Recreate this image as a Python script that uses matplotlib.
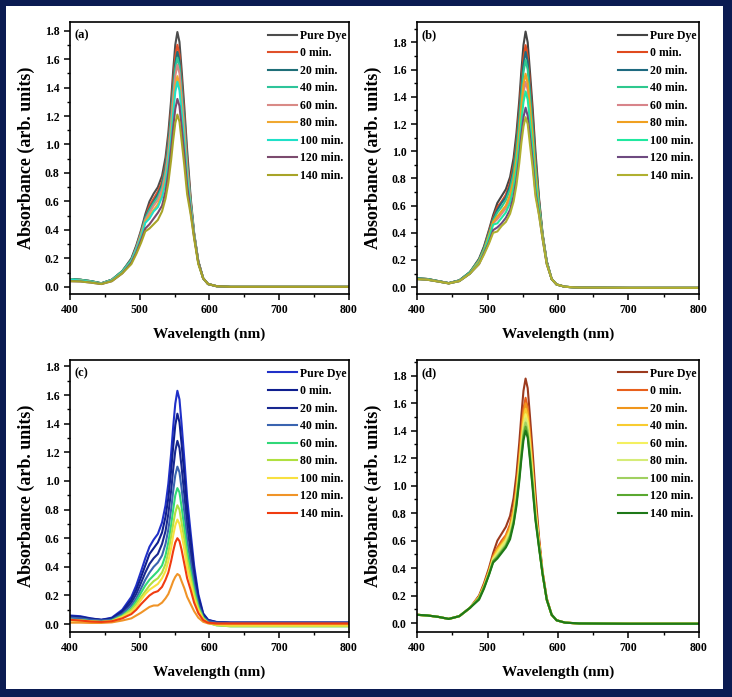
import matplotlib
matplotlib.use('Agg')
import matplotlib.pyplot as plt
from matplotlib.patches import Rectangle
from matplotlib.ticker import MultipleLocator, FormatStrFormatter

plt.rcParams['font.family'] = ['Liberation Serif', 'DejaVu Serif']
plt.rcParams['font.weight'] = 'bold'

# ---------------------------------------------------------------------------
# data
# ---------------------------------------------------------------------------
LABELS = ['Pure Dye', '0 min.', '20 min.', '40 min.', '60 min.',
          '80 min.', '100 min.', '120 min.', '140 min.']

# wavelength grid: left tail, absorption band, right tail
WL_LEFT = [400, 415, 430, 445, 460, 475]
WL_BAND = [488, 495, 502, 508, 514, 520, 526, 532, 537, 541, 545,
           548, 551, 554, 557, 560, 564, 568, 573, 578, 584, 591]
WL_RIGHT = [598, 610, 630, 700, 800]

# ---- panel (a)
A_LEFT = [[0.055, 0.05, 0.04, 0.025, 0.05, 0.11]] * 4 + \
         [[0.05, 0.045, 0.035, 0.022, 0.045, 0.10]] * 3 + \
         [[0.04, 0.038, 0.03, 0.02, 0.04, 0.095]] * 2
A_RIGHT = [[0.02, 0.005, 0.0, 0.0, 0.0]] * 9
A_BAND = [
    [0.20, 0.29, 0.40, 0.51, 0.60, 0.655, 0.70, 0.78, 0.91, 1.08, 1.31, 1.52, 1.70, 1.79, 1.72, 1.53, 1.26, 0.96, 0.63, 0.38, 0.18, 0.06],
    [0.19, 0.28, 0.39, 0.49, 0.57, 0.62, 0.67, 0.74, 0.86, 1.03, 1.24, 1.44, 1.62, 1.70, 1.63, 1.45, 1.20, 0.91, 0.61, 0.37, 0.18, 0.06],
    [0.19, 0.28, 0.38, 0.49, 0.55, 0.60, 0.65, 0.72, 0.84, 1.00, 1.21, 1.40, 1.57, 1.65, 1.59, 1.41, 1.16, 0.89, 0.60, 0.37, 0.18, 0.06],
    [0.19, 0.27, 0.38, 0.48, 0.54, 0.59, 0.63, 0.70, 0.82, 0.97, 1.18, 1.37, 1.53, 1.61, 1.55, 1.38, 1.13, 0.86, 0.59, 0.37, 0.17, 0.06],
    [0.18, 0.27, 0.37, 0.47, 0.52, 0.57, 0.61, 0.68, 0.79, 0.94, 1.14, 1.33, 1.48, 1.56, 1.50, 1.33, 1.10, 0.84, 0.58, 0.37, 0.17, 0.06],
    [0.18, 0.26, 0.36, 0.46, 0.50, 0.54, 0.58, 0.65, 0.75, 0.89, 1.08, 1.26, 1.41, 1.48, 1.42, 1.27, 1.04, 0.79, 0.56, 0.36, 0.17, 0.06],
    [0.18, 0.26, 0.35, 0.45, 0.48, 0.53, 0.56, 0.63, 0.73, 0.87, 1.05, 1.22, 1.37, 1.44, 1.38, 1.23, 1.01, 0.77, 0.56, 0.36, 0.17, 0.06],
    [0.17, 0.24, 0.33, 0.41, 0.44, 0.48, 0.52, 0.57, 0.67, 0.80, 0.97, 1.12, 1.25, 1.32, 1.27, 1.13, 0.93, 0.71, 0.53, 0.35, 0.17, 0.06],
    [0.16, 0.23, 0.31, 0.39, 0.41, 0.44, 0.47, 0.53, 0.62, 0.73, 0.89, 1.03, 1.15, 1.21, 1.16, 1.03, 0.85, 0.65, 0.51, 0.34, 0.16, 0.06],
]
A_COLORS = ['#4d4d4d', '#e0502a', '#1f6f78', '#2ec49a', '#d98a86',
            '#f0a830', '#1fe0c8', '#7b4b6e', '#a8a428']

# ---- panel (b)
B_LEFT = [[0.065, 0.06, 0.045, 0.03, 0.05, 0.11]] * 4 + \
         [[0.06, 0.055, 0.042, 0.028, 0.045, 0.10]] * 5
B_RIGHT = [[0.02, 0.003, -0.003, -0.005, -0.005]] * 9
B_BAND = [
    [0.21, 0.30, 0.42, 0.53, 0.62, 0.67, 0.72, 0.81, 0.95, 1.13, 1.37, 1.59, 1.78, 1.88, 1.80, 1.60, 1.32, 1.00, 0.66, 0.40, 0.19, 0.06],
    [0.20, 0.29, 0.41, 0.51, 0.59, 0.63, 0.68, 0.77, 0.90, 1.07, 1.30, 1.51, 1.69, 1.78, 1.70, 1.52, 1.25, 0.95, 0.64, 0.39, 0.19, 0.06],
    [0.20, 0.29, 0.40, 0.50, 0.57, 0.62, 0.66, 0.75, 0.87, 1.04, 1.26, 1.46, 1.64, 1.73, 1.66, 1.47, 1.21, 0.92, 0.63, 0.39, 0.19, 0.06],
    [0.20, 0.28, 0.39, 0.49, 0.55, 0.59, 0.64, 0.72, 0.84, 1.00, 1.22, 1.41, 1.58, 1.67, 1.60, 1.42, 1.17, 0.89, 0.62, 0.39, 0.18, 0.06],
    [0.19, 0.26, 0.37, 0.47, 0.50, 0.54, 0.58, 0.65, 0.76, 0.91, 1.10, 1.28, 1.43, 1.51, 1.45, 1.28, 1.06, 0.80, 0.58, 0.38, 0.18, 0.06],
    [0.19, 0.27, 0.38, 0.48, 0.52, 0.56, 0.60, 0.68, 0.79, 0.94, 1.14, 1.33, 1.49, 1.57, 1.50, 1.34, 1.10, 0.84, 0.59, 0.38, 0.18, 0.06],
    [0.18, 0.26, 0.36, 0.46, 0.47, 0.51, 0.55, 0.62, 0.73, 0.87, 1.05, 1.22, 1.36, 1.44, 1.38, 1.23, 1.01, 0.77, 0.57, 0.37, 0.18, 0.06],
    [0.17, 0.25, 0.33, 0.42, 0.44, 0.47, 0.51, 0.57, 0.67, 0.79, 0.96, 1.12, 1.25, 1.32, 1.26, 1.12, 0.93, 0.70, 0.54, 0.36, 0.17, 0.06],
    [0.17, 0.24, 0.32, 0.40, 0.41, 0.45, 0.48, 0.54, 0.63, 0.75, 0.91, 1.06, 1.18, 1.25, 1.20, 1.06, 0.88, 0.67, 0.53, 0.36, 0.17, 0.06],
]
B_COLORS = ['#444444', '#e04a1e', '#1e6a80', '#2ec88e', '#d8848a',
            '#f0a020', '#20e8a0', '#6e4a80', '#b0b030']

# ---- panel (c)
C_LEFT = [
    [0.06, 0.055, 0.04, 0.03, 0.045, 0.10],
    [0.055, 0.05, 0.038, 0.03, 0.04, 0.09],
    [0.05, 0.045, 0.035, 0.028, 0.035, 0.08],
    [0.045, 0.04, 0.03, 0.025, 0.03, 0.07],
    [0.03, 0.028, 0.02, 0.015, 0.025, 0.06],
    [0.03, 0.028, 0.02, 0.015, 0.022, 0.055],
    [0.025, 0.022, 0.018, 0.015, 0.02, 0.05],
    [0.01, 0.01, 0.008, 0.008, 0.012, 0.025],
    [0.03, 0.025, 0.018, 0.015, 0.02, 0.04],
]
C_RIGHT = [
    [0.03, 0.015, 0.01, 0.01, 0.01],
    [0.028, 0.014, 0.01, 0.01, 0.01],
    [0.025, 0.012, 0.01, 0.01, 0.01],
    [0.02, 0.01, 0.008, 0.008, 0.008],
    [0.01, -0.008, -0.015, -0.015, -0.015],
    [0.008, -0.008, -0.015, -0.015, -0.015],
    [0.008, -0.005, -0.01, -0.01, -0.01],
    [0.005, 0.0, 0.0, 0.0, 0.0],
    [0.01, 0.005, 0.005, 0.005, 0.005],
]
C_BAND = [
    [0.19, 0.27, 0.37, 0.46, 0.54, 0.59, 0.63, 0.71, 0.83, 0.98, 1.19, 1.38, 1.54, 1.63, 1.57, 1.40, 1.15, 0.88, 0.64, 0.41, 0.21, 0.075],
    [0.17, 0.24, 0.33, 0.41, 0.49, 0.53, 0.57, 0.64, 0.75, 0.88, 1.07, 1.24, 1.39, 1.47, 1.41, 1.26, 1.04, 0.79, 0.58, 0.37, 0.19, 0.07],
    [0.15, 0.21, 0.29, 0.36, 0.42, 0.46, 0.49, 0.56, 0.65, 0.77, 0.93, 1.08, 1.21, 1.28, 1.23, 1.10, 0.90, 0.69, 0.50, 0.32, 0.165, 0.06],
    [0.13, 0.18, 0.25, 0.31, 0.36, 0.40, 0.43, 0.48, 0.56, 0.66, 0.80, 0.93, 1.04, 1.10, 1.06, 0.95, 0.78, 0.59, 0.43, 0.28, 0.14, 0.05],
    [0.11, 0.16, 0.22, 0.27, 0.31, 0.34, 0.37, 0.41, 0.48, 0.57, 0.69, 0.80, 0.90, 0.95, 0.92, 0.82, 0.67, 0.51, 0.37, 0.24, 0.12, 0.045],
    [0.10, 0.14, 0.19, 0.23, 0.27, 0.30, 0.32, 0.36, 0.42, 0.50, 0.61, 0.70, 0.78, 0.83, 0.80, 0.71, 0.59, 0.45, 0.33, 0.21, 0.11, 0.04],
    [0.085, 0.12, 0.17, 0.21, 0.24, 0.26, 0.28, 0.32, 0.37, 0.44, 0.53, 0.62, 0.69, 0.73, 0.70, 0.63, 0.52, 0.39, 0.29, 0.18, 0.095, 0.035],
    [0.04, 0.06, 0.08, 0.10, 0.12, 0.13, 0.13, 0.15, 0.18, 0.21, 0.26, 0.30, 0.33, 0.35, 0.34, 0.30, 0.25, 0.19, 0.14, 0.09, 0.045, 0.016],
    [0.07, 0.10, 0.14, 0.17, 0.20, 0.22, 0.23, 0.26, 0.31, 0.36, 0.44, 0.51, 0.57, 0.60, 0.58, 0.52, 0.42, 0.32, 0.24, 0.15, 0.077, 0.028],
]
C_COLORS = ['#2030c8', '#0f1f8f', '#182890', '#3a64b0', '#30d878',
            '#b0e040', '#f8e040', '#f09428', '#f03c10']

# ---- panel (d)
D_LEFT = [[0.06, 0.055, 0.045, 0.03, 0.05, 0.11]] * 9
D_RIGHT = [[0.02, 0.003, -0.003, -0.005, -0.005]] * 9
D_BAND = [
    [0.20, 0.29, 0.40, 0.51, 0.60, 0.65, 0.70, 0.78, 0.91, 1.08, 1.31, 1.51, 1.69, 1.78, 1.71, 1.52, 1.25, 0.95, 0.63, 0.38, 0.18, 0.06],
    [0.19, 0.28, 0.38, 0.49, 0.55, 0.60, 0.64, 0.72, 0.84, 0.99, 1.21, 1.39, 1.56, 1.64, 1.57, 1.40, 1.15, 0.87, 0.60, 0.37, 0.18, 0.06],
    [0.19, 0.27, 0.38, 0.48, 0.54, 0.58, 0.63, 0.70, 0.82, 0.97, 1.18, 1.36, 1.52, 1.60, 1.54, 1.37, 1.12, 0.85, 0.59, 0.37, 0.17, 0.06],
    [0.19, 0.27, 0.37, 0.47, 0.53, 0.57, 0.61, 0.68, 0.80, 0.95, 1.15, 1.32, 1.48, 1.56, 1.50, 1.33, 1.10, 0.83, 0.58, 0.37, 0.17, 0.06],
    [0.18, 0.26, 0.36, 0.47, 0.51, 0.56, 0.60, 0.67, 0.78, 0.92, 1.12, 1.29, 1.44, 1.52, 1.46, 1.30, 1.07, 0.81, 0.57, 0.36, 0.17, 0.06],
    [0.18, 0.26, 0.36, 0.46, 0.50, 0.54, 0.59, 0.65, 0.76, 0.90, 1.10, 1.26, 1.41, 1.49, 1.43, 1.27, 1.05, 0.80, 0.57, 0.36, 0.17, 0.06],
    [0.18, 0.26, 0.36, 0.45, 0.49, 0.53, 0.57, 0.64, 0.75, 0.89, 1.07, 1.24, 1.39, 1.46, 1.40, 1.25, 1.03, 0.78, 0.56, 0.36, 0.17, 0.06],
    [0.18, 0.26, 0.35, 0.45, 0.48, 0.52, 0.56, 0.63, 0.73, 0.87, 1.05, 1.21, 1.36, 1.43, 1.37, 1.22, 1.00, 0.76, 0.56, 0.36, 0.17, 0.06],
    [0.17, 0.25, 0.35, 0.44, 0.47, 0.51, 0.55, 0.61, 0.72, 0.85, 1.03, 1.19, 1.33, 1.40, 1.35, 1.20, 0.98, 0.75, 0.55, 0.36, 0.17, 0.06],
]
D_COLORS = ['#9c3a1e', '#e8601c', '#f0961c', '#f8cc30', '#f4f060',
            '#d6ec78', '#a0d060', '#5aa830', '#1e7818']


# ---------------------------------------------------------------------------
# figure
# ---------------------------------------------------------------------------
fig = plt.figure(figsize=(7.32, 6.97), dpi=100)
fig.patch.set_facecolor('#0b1b52')
fig.add_artist(Rectangle((6 / 732, 8 / 697), 717 / 732, 683 / 697,
                         transform=fig.transFigure, facecolor='white',
                         edgecolor='none', zorder=-1))


def draw_panel(rect, left, band, right, colors, ylim, tag):
    ax = fig.add_axes(rect)
    wl = WL_LEFT + WL_BAND + WL_RIGHT
    for lo, mid, hi, col, lab in zip(left, band, right, colors, LABELS):
        ax.plot(wl, lo + mid + hi, color=col, lw=1.5, label=lab)

    ax.set_xlim(400, 800)
    ax.set_ylim(*ylim)
    ax.xaxis.set_major_locator(MultipleLocator(100))
    ax.xaxis.set_minor_locator(MultipleLocator(50))
    ax.yaxis.set_major_locator(MultipleLocator(0.2))
    ax.yaxis.set_minor_locator(MultipleLocator(0.1))
    ax.yaxis.set_major_formatter(FormatStrFormatter('%.1f'))
    ax.tick_params(which='major', direction='out', length=4, width=1.1,
                   labelsize=8.5, top=False, right=False)
    ax.tick_params(which='minor', direction='out', length=2.5, width=1.0,
                   top=False, right=False)
    for lbl in ax.get_xticklabels() + ax.get_yticklabels():
        lbl.set_fontweight('bold')
    for sp in ax.spines.values():
        sp.set_linewidth(1.2)

    ax.set_xlabel('Wavelength (nm)', fontsize=11, fontweight='bold', labelpad=8)
    ax.set_ylabel('Absorbance (arb. units)', fontsize=13, fontweight='bold', labelpad=7)
    ax.text(0.015, 0.975, tag, transform=ax.transAxes, ha='left', va='top',
            fontsize=9, fontweight='bold')

    leg = ax.legend(loc='upper right', bbox_to_anchor=(1.005, 0.985),
                    frameon=False, fontsize=8.5,
                    handlelength=2.4, handletextpad=0.3, labelspacing=0.47,
                    borderaxespad=0.0, borderpad=0.3)
    for t in leg.get_texts():
        t.set_fontweight('bold')
    return ax


draw_panel([0.0956, 0.5782, 0.3811, 0.3902], A_LEFT, A_BAND, A_RIGHT, A_COLORS, (-0.05, 1.86), '(a)')
draw_panel([0.5697, 0.5782, 0.3852, 0.3902], B_LEFT, B_BAND, B_RIGHT, B_COLORS, (-0.05, 1.95), '(b)')
draw_panel([0.0956, 0.0933, 0.3811, 0.3902], C_LEFT, C_BAND, C_RIGHT, C_COLORS, (-0.055, 1.845), '(c)')
draw_panel([0.5697, 0.0933, 0.3852, 0.3902], D_LEFT, D_BAND, D_RIGHT, D_COLORS, (-0.065, 1.915), '(d)')

fig.savefig('out.png', dpi=100, facecolor=fig.get_facecolor())
